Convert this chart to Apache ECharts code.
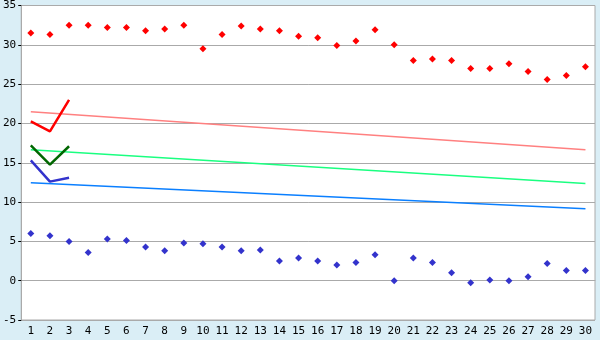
<!DOCTYPE html>
<html><head><meta charset="utf-8">
<script src="https://cdn.jsdelivr.net/npm/echarts@6/dist/echarts.min.js"></script>
<style>html,body{margin:0;padding:0;background:#daeef6;}#c{width:600px;height:340px;}</style>
</head><body><div id="c"></div>
<script>
const categories = ['1','2','3','4','5','6','7','8','9','10','11','12','13','14','15','16','17','18','19','20','21','22','23','24','25','26','27','28','29','30'];
const yTicks = { min: -5, max: 35, interval: 5 };
const redPoints = [31.5,31.3,32.5,32.5,32.2,32.2,31.8,32.0,32.5,29.5,31.3,32.4,32.0,31.8,31.1,30.9,29.9,30.5,31.9,30.0,28.0,28.2,28.0,27.0,27.0,27.6,26.6,25.6,26.1,27.2];
const bluePoints = [6.0,5.7,5.0,3.6,5.3,5.1,4.3,3.8,4.8,4.7,4.3,3.8,3.9,2.5,2.9,2.5,2.0,2.3,3.3,0.0,2.9,2.3,1.0,-0.25,0.1,0.0,0.5,2.2,1.3,1.3];
const redShort = [20.25,19.0,23.0];
const greenShort = [17.2,14.75,17.1];
const blueShort = [15.3,12.6,13.1];
const pinkTrend = [21.5,16.65];
const greenTrend = [16.65,12.35];
const blueTrend = [12.45,9.15];

function endpoints(pair){ const a = categories.map(()=>null); a[0]=pair[0]; a[a.length-1]=pair[1]; return a; }

const chart = echarts.init(document.getElementById('c'));
const font = 'DejaVu Sans Mono';
chart.setOption({
  animation:false,
  backgroundColor:'#daeef6',
  grid:{left:20,right:5,top:5,bottom:20,show:true,backgroundColor:'#ffffff',borderColor:'#aaaaaa',borderWidth:1},
  xAxis:{type:'category',data:categories,boundaryGap:true,
    axisLine:{lineStyle:{color:'#aaaaaa'}},
    axisTick:{alignWithLabel:true,length:5,lineStyle:{color:'#000'}},
    axisLabel:{color:'#000',fontFamily:font,fontSize:11,margin:6,interval:0},
    splitLine:{show:false}},
  yAxis:{type:'value',min:yTicks.min,max:yTicks.max,interval:yTicks.interval,
    axisLine:{show:true,lineStyle:{color:'#aaaaaa'}},
    axisTick:{show:true,length:3,lineStyle:{color:'#000'}},
    axisLabel:{color:'#000',fontFamily:font,fontSize:11,margin:5},
    splitLine:{lineStyle:{color:'#aaaaaa'}}},
  series:[
    {type:'line',data:endpoints(pinkTrend),connectNulls:true,symbol:'none',lineStyle:{color:'#ff8080',width:1.5}},
    {type:'line',data:endpoints(greenTrend),connectNulls:true,symbol:'none',lineStyle:{color:'#1aff80',width:1.5}},
    {type:'line',data:endpoints(blueTrend),connectNulls:true,symbol:'none',lineStyle:{color:'#0a7fff',width:1.5}},
    {type:'line',data:redShort,symbol:'none',lineStyle:{color:'#ff0000',width:2.5}},
    {type:'line',data:greenShort,symbol:'none',lineStyle:{color:'#006600',width:2.5}},
    {type:'line',data:blueShort,symbol:'none',lineStyle:{color:'#3333cc',width:2.5}},
    {type:'scatter',data:redPoints,symbol:'diamond',symbolSize:7,itemStyle:{color:'#ff0000',opacity:1}},
    {type:'scatter',data:bluePoints,symbol:'diamond',symbolSize:7,itemStyle:{color:'#3333cc',opacity:1}}
  ]
});
</script></body></html>
